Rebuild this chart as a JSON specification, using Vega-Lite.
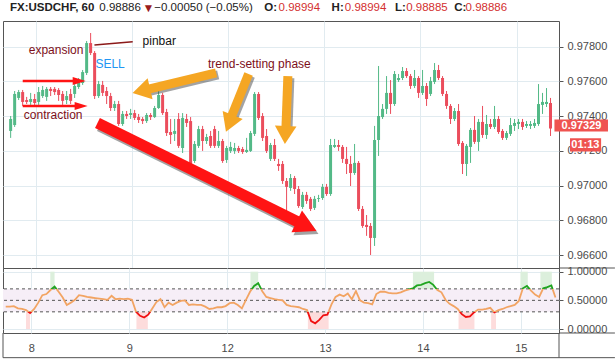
{
"$schema":"https://vega.github.io/schema/vega-lite/v6.json",
"padding":{"left":1,"top":1,"right":2,"bottom":1},
"background":"white",
"bounds":"flush",
"config":{"view":{"stroke":"#555555","strokeWidth":1},"font":"Liberation Sans","axis":{"labelFont":"Liberation Sans","labelFontSize":11,"labelColor":"#4a4a4a","gridColor":"#e1ebf0"}},
"datasets":{"bars":[
{"k":0,"o":0.97315,"h":0.97401,"l":0.97275,"c":0.97384,"osc":0.39},
{"k":1,"o":0.97349,"h":0.97545,"l":0.97338,"c":0.97528,"osc":0.39},
{"k":2,"o":0.97505,"h":0.97551,"l":0.97493,"c":0.97539,"osc":0.40},
{"k":3,"o":0.97539,"h":0.97551,"l":0.97459,"c":0.97482,"osc":0.36},
{"k":4,"o":0.97493,"h":0.97511,"l":0.97470,"c":0.97482,"osc":0.35},
{"k":5,"o":0.97482,"h":0.97534,"l":0.97465,"c":0.97499,"osc":0.33},
{"k":6,"o":0.97499,"h":0.97528,"l":0.97453,"c":0.97476,"osc":0.28},
{"k":7,"o":0.97482,"h":0.97568,"l":0.97465,"c":0.97539,"osc":0.35},
{"k":8,"o":0.97516,"h":0.97574,"l":0.97505,"c":0.97551,"osc":0.46},
{"k":9,"o":0.97511,"h":0.97568,"l":0.97488,"c":0.97557,"osc":0.59},
{"k":10,"o":0.97557,"h":0.97568,"l":0.97516,"c":0.97545,"osc":0.61},
{"k":11,"o":0.97557,"h":0.97568,"l":0.97522,"c":0.97539,"osc":0.68},
{"k":12,"o":0.97551,"h":0.97562,"l":0.97488,"c":0.97522,"osc":0.74},
{"k":13,"o":0.97528,"h":0.97545,"l":0.97465,"c":0.97488,"osc":0.65},
{"k":14,"o":0.97493,"h":0.97545,"l":0.97470,"c":0.97516,"osc":0.55},
{"k":15,"o":0.97528,"h":0.97557,"l":0.97470,"c":0.97488,"osc":0.42},
{"k":16,"o":0.97528,"h":0.97585,"l":0.97505,"c":0.97574,"osc":0.46},
{"k":17,"o":0.97568,"h":0.97620,"l":0.97557,"c":0.97608,"osc":0.51},
{"k":18,"o":0.97591,"h":0.97666,"l":0.97580,"c":0.97654,"osc":0.59},
{"k":19,"o":0.97649,"h":0.97833,"l":0.97637,"c":0.97821,"osc":0.58},
{"k":20,"o":0.97821,"h":0.97879,"l":0.97752,"c":0.97764,"osc":0.56},
{"k":21,"o":0.97764,"h":0.97775,"l":0.97499,"c":0.97516,"osc":0.55},
{"k":22,"o":0.97516,"h":0.97603,"l":0.97505,"c":0.97585,"osc":0.54},
{"k":23,"o":0.97580,"h":0.97603,"l":0.97516,"c":0.97534,"osc":0.53},
{"k":24,"o":0.97545,"h":0.97568,"l":0.97470,"c":0.97516,"osc":0.52},
{"k":25,"o":0.97516,"h":0.97534,"l":0.97430,"c":0.97447,"osc":0.51},
{"k":26,"o":0.97447,"h":0.97488,"l":0.97430,"c":0.97470,"osc":0.58},
{"k":27,"o":0.97470,"h":0.97488,"l":0.97344,"c":0.97355,"osc":0.52},
{"k":28,"o":0.97355,"h":0.97430,"l":0.97344,"c":0.97413,"osc":0.53},
{"k":29,"o":0.97413,"h":0.97430,"l":0.97384,"c":0.97401,"osc":0.52},
{"k":30,"o":0.97407,"h":0.97442,"l":0.97384,"c":0.97418,"osc":0.53},
{"k":31,"o":0.97418,"h":0.97436,"l":0.97378,"c":0.97390,"osc":0.51},
{"k":32,"o":0.97395,"h":0.97413,"l":0.97361,"c":0.97378,"osc":0.30},
{"k":33,"o":0.97384,"h":0.97395,"l":0.97355,"c":0.97372,"osc":0.23},
{"k":34,"o":0.97372,"h":0.97418,"l":0.97361,"c":0.97407,"osc":0.20},
{"k":35,"o":0.97407,"h":0.97418,"l":0.97378,"c":0.97395,"osc":0.25},
{"k":36,"o":0.97395,"h":0.97459,"l":0.97390,"c":0.97447,"osc":0.36},
{"k":37,"o":0.97447,"h":0.97545,"l":0.97442,"c":0.97522,"osc":0.47},
{"k":38,"o":0.97522,"h":0.97534,"l":0.97407,"c":0.97418,"osc":0.52},
{"k":39,"o":0.97424,"h":0.97442,"l":0.97286,"c":0.97303,"osc":0.38},
{"k":40,"o":0.97309,"h":0.97384,"l":0.97240,"c":0.97292,"osc":0.46},
{"k":41,"o":0.97298,"h":0.97384,"l":0.97257,"c":0.97315,"osc":0.42},
{"k":42,"o":0.97384,"h":0.97418,"l":0.97217,"c":0.97229,"osc":0.46},
{"k":43,"o":0.97217,"h":0.97418,"l":0.97188,"c":0.97390,"osc":0.49},
{"k":44,"o":0.97384,"h":0.97413,"l":0.97338,"c":0.97361,"osc":0.50},
{"k":45,"o":0.97372,"h":0.97395,"l":0.97108,"c":0.97125,"osc":0.42},
{"k":46,"o":0.97142,"h":0.97257,"l":0.97131,"c":0.97240,"osc":0.43},
{"k":47,"o":0.97229,"h":0.97344,"l":0.97217,"c":0.97326,"osc":0.42},
{"k":48,"o":0.97326,"h":0.97344,"l":0.97200,"c":0.97257,"osc":0.42},
{"k":49,"o":0.97257,"h":0.97298,"l":0.97240,"c":0.97280,"osc":0.39},
{"k":50,"o":0.97286,"h":0.97315,"l":0.97217,"c":0.97229,"osc":0.35},
{"k":51,"o":0.97326,"h":0.97344,"l":0.97217,"c":0.97229,"osc":0.36},
{"k":52,"o":0.97229,"h":0.97315,"l":0.97217,"c":0.97257,"osc":0.38},
{"k":53,"o":0.97257,"h":0.97269,"l":0.97131,"c":0.97142,"osc":0.38},
{"k":54,"o":0.97148,"h":0.97229,"l":0.97131,"c":0.97217,"osc":0.40},
{"k":55,"o":0.97200,"h":0.97252,"l":0.97188,"c":0.97223,"osc":0.45},
{"k":56,"o":0.97200,"h":0.97246,"l":0.97183,"c":0.97217,"osc":0.46},
{"k":57,"o":0.97217,"h":0.97229,"l":0.97188,"c":0.97200,"osc":0.42},
{"k":58,"o":0.97211,"h":0.97223,"l":0.97183,"c":0.97194,"osc":0.36},
{"k":59,"o":0.97194,"h":0.97275,"l":0.97188,"c":0.97206,"osc":0.51},
{"k":60,"o":0.97200,"h":0.97315,"l":0.97194,"c":0.97303,"osc":0.65},
{"k":61,"o":0.97298,"h":0.97539,"l":0.97286,"c":0.97528,"osc":0.75},
{"k":62,"o":0.97528,"h":0.97539,"l":0.97378,"c":0.97390,"osc":0.80},
{"k":63,"o":0.97401,"h":0.97418,"l":0.97257,"c":0.97275,"osc":0.66},
{"k":64,"o":0.97286,"h":0.97326,"l":0.97188,"c":0.97200,"osc":0.56},
{"k":65,"o":0.97154,"h":0.97246,"l":0.97142,"c":0.97234,"osc":0.54},
{"k":66,"o":0.97234,"h":0.97269,"l":0.97142,"c":0.97154,"osc":0.52},
{"k":67,"o":0.97125,"h":0.97154,"l":0.97085,"c":0.97113,"osc":0.51},
{"k":68,"o":0.97125,"h":0.97142,"l":0.97010,"c":0.97027,"osc":0.50},
{"k":69,"o":0.97027,"h":0.97044,"l":0.96854,"c":0.96993,"osc":0.42},
{"k":70,"o":0.96987,"h":0.97067,"l":0.96970,"c":0.97044,"osc":0.40},
{"k":71,"o":0.97044,"h":0.97056,"l":0.96952,"c":0.96981,"osc":0.39},
{"k":72,"o":0.96981,"h":0.96998,"l":0.96872,"c":0.96883,"osc":0.38},
{"k":73,"o":0.96877,"h":0.96964,"l":0.96866,"c":0.96947,"osc":0.35},
{"k":74,"o":0.96947,"h":0.96964,"l":0.96895,"c":0.96912,"osc":0.33},
{"k":75,"o":0.96924,"h":0.96935,"l":0.96854,"c":0.96866,"osc":0.14},
{"k":76,"o":0.96872,"h":0.96941,"l":0.96860,"c":0.96924,"osc":0.10},
{"k":77,"o":0.96924,"h":0.96947,"l":0.96906,"c":0.96929,"osc":0.16},
{"k":78,"o":0.96929,"h":0.97010,"l":0.96918,"c":0.96993,"osc":0.24},
{"k":79,"o":0.96993,"h":0.97010,"l":0.96941,"c":0.96952,"osc":0.25},
{"k":80,"o":0.96952,"h":0.97269,"l":0.96941,"c":0.97234,"osc":0.43},
{"k":81,"o":0.97223,"h":0.97269,"l":0.97217,"c":0.97234,"osc":0.56},
{"k":82,"o":0.97234,"h":0.97263,"l":0.97200,"c":0.97223,"osc":0.60},
{"k":83,"o":0.97223,"h":0.97234,"l":0.97131,"c":0.97154,"osc":0.57},
{"k":84,"o":0.97154,"h":0.97223,"l":0.97067,"c":0.97125,"osc":0.62},
{"k":85,"o":0.97125,"h":0.97171,"l":0.96998,"c":0.97073,"osc":0.52},
{"k":86,"o":0.97073,"h":0.97240,"l":0.97062,"c":0.97131,"osc":0.66},
{"k":87,"o":0.97131,"h":0.97142,"l":0.96854,"c":0.96866,"osc":0.50},
{"k":88,"o":0.96866,"h":0.96883,"l":0.96757,"c":0.96768,"osc":0.46},
{"k":89,"o":0.96774,"h":0.96831,"l":0.96711,"c":0.96762,"osc":0.45},
{"k":90,"o":0.96768,"h":0.96785,"l":0.96601,"c":0.96699,"osc":0.43},
{"k":91,"o":0.96699,"h":0.97344,"l":0.96653,"c":0.97263,"osc":0.61},
{"k":92,"o":0.97263,"h":0.97689,"l":0.97171,"c":0.97401,"osc":0.65},
{"k":93,"o":0.97395,"h":0.97470,"l":0.97384,"c":0.97442,"osc":0.65},
{"k":94,"o":0.97442,"h":0.97631,"l":0.97413,"c":0.97534,"osc":0.63},
{"k":95,"o":0.97534,"h":0.97608,"l":0.97413,"c":0.97470,"osc":0.62},
{"k":96,"o":0.97470,"h":0.97660,"l":0.97459,"c":0.97643,"osc":0.62},
{"k":97,"o":0.97608,"h":0.97643,"l":0.97597,"c":0.97620,"osc":0.64},
{"k":98,"o":0.97620,"h":0.97683,"l":0.97608,"c":0.97660,"osc":0.67},
{"k":99,"o":0.97660,"h":0.97677,"l":0.97620,"c":0.97631,"osc":0.69},
{"k":100,"o":0.97631,"h":0.97643,"l":0.97557,"c":0.97574,"osc":0.71},
{"k":101,"o":0.97574,"h":0.97666,"l":0.97562,"c":0.97620,"osc":0.76},
{"k":102,"o":0.97620,"h":0.97631,"l":0.97505,"c":0.97534,"osc":0.77},
{"k":103,"o":0.97534,"h":0.97666,"l":0.97522,"c":0.97574,"osc":0.80},
{"k":104,"o":0.97574,"h":0.97591,"l":0.97459,"c":0.97499,"osc":0.82},
{"k":105,"o":0.97528,"h":0.97626,"l":0.97516,"c":0.97603,"osc":0.77},
{"k":106,"o":0.97597,"h":0.97706,"l":0.97585,"c":0.97666,"osc":0.68},
{"k":107,"o":0.97666,"h":0.97695,"l":0.97608,"c":0.97620,"osc":0.64},
{"k":108,"o":0.97620,"h":0.97631,"l":0.97516,"c":0.97528,"osc":0.51},
{"k":109,"o":0.97528,"h":0.97545,"l":0.97442,"c":0.97459,"osc":0.44},
{"k":110,"o":0.97459,"h":0.97470,"l":0.97355,"c":0.97384,"osc":0.40},
{"k":111,"o":0.97384,"h":0.97447,"l":0.97372,"c":0.97430,"osc":0.35},
{"k":112,"o":0.97430,"h":0.97470,"l":0.97229,"c":0.97240,"osc":0.26},
{"k":113,"o":0.97246,"h":0.97257,"l":0.97067,"c":0.97125,"osc":0.21},
{"k":114,"o":0.97125,"h":0.97240,"l":0.97056,"c":0.97229,"osc":0.22},
{"k":115,"o":0.97223,"h":0.97332,"l":0.97131,"c":0.97321,"osc":0.29},
{"k":116,"o":0.97321,"h":0.97401,"l":0.97240,"c":0.97252,"osc":0.34},
{"k":117,"o":0.97252,"h":0.97384,"l":0.97200,"c":0.97367,"osc":0.34},
{"k":118,"o":0.97367,"h":0.97459,"l":0.97275,"c":0.97292,"osc":0.35},
{"k":119,"o":0.97292,"h":0.97407,"l":0.97269,"c":0.97355,"osc":0.37},
{"k":120,"o":0.97355,"h":0.97384,"l":0.97326,"c":0.97338,"osc":0.29},
{"k":121,"o":0.97338,"h":0.97459,"l":0.97326,"c":0.97384,"osc":0.33},
{"k":122,"o":0.97384,"h":0.97401,"l":0.97298,"c":0.97309,"osc":0.35},
{"k":123,"o":0.97315,"h":0.97326,"l":0.97263,"c":0.97275,"osc":0.38},
{"k":124,"o":0.97275,"h":0.97315,"l":0.97263,"c":0.97303,"osc":0.40},
{"k":125,"o":0.97298,"h":0.97390,"l":0.97286,"c":0.97349,"osc":0.42},
{"k":126,"o":0.97344,"h":0.97384,"l":0.97315,"c":0.97361,"osc":0.49},
{"k":127,"o":0.97355,"h":0.97384,"l":0.97326,"c":0.97367,"osc":0.71},
{"k":128,"o":0.97367,"h":0.97384,"l":0.97321,"c":0.97338,"osc":0.75},
{"k":129,"o":0.97344,"h":0.97372,"l":0.97332,"c":0.97355,"osc":0.67},
{"k":130,"o":0.97344,"h":0.97372,"l":0.97326,"c":0.97355,"osc":0.60},
{"k":131,"o":0.97344,"h":0.97384,"l":0.97332,"c":0.97361,"osc":0.56},
{"k":132,"o":0.97355,"h":0.97585,"l":0.97344,"c":0.97470,"osc":0.71},
{"k":133,"o":0.97465,"h":0.97534,"l":0.97413,"c":0.97482,"osc":0.73},
{"k":134,"o":0.97470,"h":0.97562,"l":0.97453,"c":0.97482,"osc":0.76},
{"k":135,"o":0.97476,"h":0.97505,"l":0.97286,"c":0.97329,"osc":0.55}
]},
"spacing":0,
"vconcat":[
{"width":556,"height":247,
 "layer":[
  {"data":{"name":"bars"},"mark":{"type":"rule","strokeWidth":1},
   "encoding":{
    "x":{"field":"k","type":"quantitative","title":null,"scale":{"domain":[-0.663,135.87],"nice":false,"zero":false},"axis":{"values":[6.3,30.34,54.38,78.42,102.46,126.5],"labels":false,"ticks":false,"domain":false,"grid":true,"title":null}},
    "y":{"field":"l","type":"quantitative","title":null,"scale":{"domain":[0.96526,0.97948],"nice":false,"zero":false},"axis":{"orient":"right","values":[0.966,0.968,0.97,0.972,0.974,0.976,0.978],"format":".5f","tickSize":4,"tickColor":"#555555","domain":false,"labelPadding":4,"grid":true,"title":null,"zindex":0,"labelOverlap":false}},
    "y2":{"field":"h"},
    "color":{"condition":{"test":"datum.c >= datum.o","value":"#53b987"},"value":"#eb4d5c"}}},
  {"data":{"name":"bars"},"mark":{"type":"bar","size":3},
   "encoding":{
    "x":{"field":"k","type":"quantitative","title":null,"scale":{"domain":[-0.663,135.87],"nice":false,"zero":false}},
    "y":{"field":"o","type":"quantitative","title":null,"scale":{"domain":[0.96526,0.97948],"nice":false,"zero":false}},
    "y2":{"field":"c"},
    "color":{"condition":{"test":"datum.c >= datum.o","value":"#53b987"},"value":"#eb4d5c"}}},
  {"data":{"values":[{"k":21.71,"p":0.97361,"k2":72.76,"p2":0.96781}]},"mark":{"type":"rule","strokeWidth":11,"color":"#333333","opacity":0.45,"xOffset":2,"x2Offset":2,"yOffset":3,"y2Offset":3},
   "encoding":{"x":{"field":"k","type":"quantitative","title":null,"scale":{"domain":[-0.663,135.87],"nice":false,"zero":false}},"y":{"field":"p","type":"quantitative","title":null,"scale":{"domain":[0.96526,0.97948],"nice":false,"zero":false}},"x2":{"field":"k2"},"y2":{"field":"p2"}}},
  {"data":{"values":[{"k":74.01,"p":0.96767}]},"mark":{"type":"point","shape":"M0,-1L1.1,1L-1.1,1Z","size":484,"angle":115.84,"filled":true,"opacity":0.45,"color":"#333333","xOffset":2,"yOffset":3},
   "encoding":{"x":{"field":"k","type":"quantitative","title":null,"scale":{"domain":[-0.663,135.87],"nice":false,"zero":false}},"y":{"field":"p","type":"quantitative","title":null,"scale":{"domain":[0.96526,0.97948],"nice":false,"zero":false}}}},
  {"data":{"values":[{"k":51.39,"p":0.97649,"k2":33.47,"p2":0.97550},{"k":59.5,"p":0.97643,"k2":55.08,"p2":0.97390},{"k":69.32,"p":0.97631,"k2":68.83,"p2":0.97326}]},"mark":{"type":"rule","strokeWidth":9,"color":"#333333","opacity":0.45,"xOffset":2,"x2Offset":2,"yOffset":2,"y2Offset":2},
   "encoding":{"x":{"field":"k","type":"quantitative","title":null,"scale":{"domain":[-0.663,135.87],"nice":false,"zero":false}},"y":{"field":"p","type":"quantitative","title":null,"scale":{"domain":[0.96526,0.97948],"nice":false,"zero":false}},"x2":{"field":"k2"},"y2":{"field":"p2"}}},
  {"data":{"values":[{"k":21.71,"p":0.97361,"k2":72.76,"p2":0.96781}]},"mark":{"type":"rule","strokeWidth":11,"color":"#ff1414"},
   "encoding":{"x":{"field":"k","type":"quantitative","title":null,"scale":{"domain":[-0.663,135.87],"nice":false,"zero":false}},"y":{"field":"p","type":"quantitative","title":null,"scale":{"domain":[0.96526,0.97948],"nice":false,"zero":false}},"x2":{"field":"k2"},"y2":{"field":"p2"}}},
  {"data":{"values":[{"k":74.01,"p":0.96767}]},"mark":{"type":"point","shape":"M0,-1L1.1,1L-1.1,1Z","size":484,"angle":115.84,"filled":true,"opacity":1,"color":"#ff1414"},
   "encoding":{"x":{"field":"k","type":"quantitative","title":null,"scale":{"domain":[-0.663,135.87],"nice":false,"zero":false}},"y":{"field":"p","type":"quantitative","title":null,"scale":{"domain":[0.96526,0.97948],"nice":false,"zero":false}}}},
  {"data":{"values":[{"k":3.02,"p":0.97603,"k2":16.28,"p2":0.97603},{"k":3.02,"p":0.97459,"k2":16.77,"p2":0.97459}]},"mark":{"type":"rule","strokeWidth":2.5,"color":"#ff1414"},
   "encoding":{"x":{"field":"k","type":"quantitative","title":null,"scale":{"domain":[-0.663,135.87],"nice":false,"zero":false}},"y":{"field":"p","type":"quantitative","title":null,"scale":{"domain":[0.96526,0.97948],"nice":false,"zero":false}},"x2":{"field":"k2"},"y2":{"field":"p2"}}},
  {"data":{"values":[{"k":17.14,"p":0.97603},{"k":17.63,"p":0.97459}]},"mark":{"type":"point","shape":"M0,-1L0.62,1L-0.62,1Z","size":169,"angle":90,"filled":true,"opacity":1,"color":"#ff1414"},
   "encoding":{"x":{"field":"k","type":"quantitative","title":null,"scale":{"domain":[-0.663,135.87],"nice":false,"zero":false}},"y":{"field":"p","type":"quantitative","title":null,"scale":{"domain":[0.96526,0.97948],"nice":false,"zero":false}}}},
  {"data":{"values":[{"k":51.39,"p":0.97649,"k2":33.47,"p2":0.97550},{"k":59.5,"p":0.97643,"k2":55.08,"p2":0.97390},{"k":69.32,"p":0.97631,"k2":68.83,"p2":0.97326}]},"mark":{"type":"rule","strokeWidth":9,"color":"#f5a623"},
   "encoding":{"x":{"field":"k","type":"quantitative","title":null,"scale":{"domain":[-0.663,135.87],"nice":false,"zero":false}},"y":{"field":"p","type":"quantitative","title":null,"scale":{"domain":[0.96526,0.97948],"nice":false,"zero":false}},"x2":{"field":"k2"},"y2":{"field":"p2"}}},
  {"data":{"values":[{"k":32.68,"p":0.97546}]},"mark":{"type":"point","shape":"M0,-1L1.2,1L-1.2,1Z","size":324,"angle":256.76,"filled":true,"opacity":1,"color":"#f5a623"},
   "encoding":{"x":{"field":"k","type":"quantitative","title":null,"scale":{"domain":[-0.663,135.87],"nice":false,"zero":false}},"y":{"field":"p","type":"quantitative","title":null,"scale":{"domain":[0.96526,0.97948],"nice":false,"zero":false}}}},
  {"data":{"values":[{"k":54.68,"p":0.97359}]},"mark":{"type":"point","shape":"M0,-1L1.2,1L-1.2,1Z","size":324,"angle":201.97,"filled":true,"opacity":1,"color":"#f5a623"},
   "encoding":{"x":{"field":"k","type":"quantitative","title":null,"scale":{"domain":[-0.663,135.87],"nice":false,"zero":false}},"y":{"field":"p","type":"quantitative","title":null,"scale":{"domain":[0.96526,0.97948],"nice":false,"zero":false}}}},
  {"data":{"values":[{"k":68.68,"p":0.97292}]},"mark":{"type":"point","shape":"M0,-1L1.2,1L-1.2,1Z","size":324,"angle":182.5,"filled":true,"opacity":1,"color":"#f5a623"},
   "encoding":{"x":{"field":"k","type":"quantitative","title":null,"scale":{"domain":[-0.663,135.87],"nice":false,"zero":false}},"y":{"field":"p","type":"quantitative","title":null,"scale":{"domain":[0.96526,0.97948],"nice":false,"zero":false}}}},
  {"data":{"values":[{"k":20.95,"p":0.97810,"k2":30.52,"p2":0.97829}]},"mark":{"type":"rule","strokeWidth":1.5,"color":"#8b1a1a"},
   "encoding":{"x":{"field":"k","type":"quantitative","title":null,"scale":{"domain":[-0.663,135.87],"nice":false,"zero":false}},"y":{"field":"p","type":"quantitative","title":null,"scale":{"domain":[0.96526,0.97948],"nice":false,"zero":false}},"x2":{"field":"k2"},"y2":{"field":"p2"}}},
  {"data":{"values":[{"k":11.37,"p":0.97781,"t":"expansion"},{"k":10.63,"p":0.97407,"t":"contraction"},{"k":62.2,"p":0.97703,"t":"trend-setting phase"}]},"mark":{"type":"text","fontSize":12,"color":"#7d0f1a","align":"center","baseline":"middle"},
   "encoding":{"x":{"field":"k","type":"quantitative","title":null,"scale":{"domain":[-0.663,135.87],"nice":false,"zero":false}},"y":{"field":"p","type":"quantitative","title":null,"scale":{"domain":[0.96526,0.97948],"nice":false,"zero":false}},"text":{"field":"t"}}},
  {"data":{"values":[{"k":24.87,"p":0.97703,"t":"SELL"}]},"mark":{"type":"text","fontSize":12,"color":"#2196f3","align":"center","baseline":"middle"},
   "encoding":{"x":{"field":"k","type":"quantitative","title":null,"scale":{"domain":[-0.663,135.87],"nice":false,"zero":false}},"y":{"field":"p","type":"quantitative","title":null,"scale":{"domain":[0.96526,0.97948],"nice":false,"zero":false}},"text":{"field":"t"}}},
  {"data":{"values":[{"k":37.15,"p":0.97833,"t":"pinbar"}]},"mark":{"type":"text","fontSize":12,"color":"#111111","align":"center","baseline":"middle"},
   "encoding":{"x":{"field":"k","type":"quantitative","title":null,"scale":{"domain":[-0.663,135.87],"nice":false,"zero":false}},"y":{"field":"p","type":"quantitative","title":null,"scale":{"domain":[0.96526,0.97948],"nice":false,"zero":false}},"text":{"field":"t"}}},
  {"data":{"values":[{"k":-0.17,"p":0.98023,"t":"FX:USDCHF, 60"},{"k":63.43,"p":0.98023,"t":"O:"},{"k":80.25,"p":0.98023,"t":"H:"},{"k":96.08,"p":0.98023,"t":"L:"},{"k":110.94,"p":0.98023,"t":"C:"}]},"mark":{"type":"text","fontSize":11.5,"fontWeight":"bold","color":"#222222","align":"left","baseline":"middle"},
   "encoding":{"x":{"field":"k","type":"quantitative","title":null,"scale":{"domain":[-0.663,135.87],"nice":false,"zero":false}},"y":{"field":"p","type":"quantitative","title":null,"scale":{"domain":[0.96526,0.97948],"nice":false,"zero":false}},"text":{"field":"t"}}},
  {"data":{"values":[{"k":22.17,"p":0.98023,"t":"0.98886"},{"k":35.92,"p":0.98023,"t":"−0.00050 (−0.05%)"}]},"mark":{"type":"text","fontSize":11.5,"color":"#222222","align":"left","baseline":"middle"},
   "encoding":{"x":{"field":"k","type":"quantitative","title":null,"scale":{"domain":[-0.663,135.87],"nice":false,"zero":false}},"y":{"field":"p","type":"quantitative","title":null,"scale":{"domain":[0.96526,0.97948],"nice":false,"zero":false}},"text":{"field":"t"}}},
  {"data":{"values":[{"k":32.98,"p":0.98023,"t":"▼"}]},"mark":{"type":"text","fontSize":12,"color":"#9b1c1c","align":"left","baseline":"middle"},
   "encoding":{"x":{"field":"k","type":"quantitative","title":null,"scale":{"domain":[-0.663,135.87],"nice":false,"zero":false}},"y":{"field":"p","type":"quantitative","title":null,"scale":{"domain":[0.96526,0.97948],"nice":false,"zero":false}},"text":{"field":"t"}}},
  {"data":{"values":[{"k":66.99,"p":0.98023,"t":"0.98994"},{"k":83.56,"p":0.98023,"t":"0.98994"},{"k":98.91,"p":0.98023,"t":"0.98885"},{"k":113.76,"p":0.98023,"t":"0.98886"}]},"mark":{"type":"text","fontSize":11.5,"color":"#d32f2f","align":"left","baseline":"middle"},
   "encoding":{"x":{"field":"k","type":"quantitative","title":null,"scale":{"domain":[-0.663,135.87],"nice":false,"zero":false}},"y":{"field":"p","type":"quantitative","title":null,"scale":{"domain":[0.96526,0.97948],"nice":false,"zero":false}},"text":{"field":"t"}}},
  {"data":{"values":[{"k":135.98,"k2":149.37,"p":0.97381,"p2":0.97312},{"k":139.87,"k2":147.65,"p":0.97273,"p2":0.97196}]},"mark":{"type":"rect","color":"#ef5350"},
   "encoding":{"x":{"field":"k","type":"quantitative","title":null,"scale":{"domain":[-0.663,135.87],"nice":false,"zero":false}},"y":{"field":"p","type":"quantitative","title":null,"scale":{"domain":[0.96526,0.97948],"nice":false,"zero":false}},"x2":{"field":"k2"},"y2":{"field":"p2"}}},
  {"data":{"values":[{"k":142.74,"p":0.97346,"t":"0.97329"},{"k":143.72,"p":0.97234,"t":"01:13"}]},"mark":{"type":"text","fontSize":11,"fontWeight":"bold","color":"#ffffff","align":"center","baseline":"middle"},
   "encoding":{"x":{"field":"k","type":"quantitative","title":null,"scale":{"domain":[-0.663,135.87],"nice":false,"zero":false}},"y":{"field":"p","type":"quantitative","title":null,"scale":{"domain":[0.96526,0.97948],"nice":false,"zero":false}},"text":{"field":"t"}}}
 ]},
{"width":556,"height":65,
 "layer":[
  {"data":{"values":[{"lo":0.3,"hi":0.7}]},"mark":{"type":"rect","color":"#f6eef7"},
   "encoding":{"y":{"field":"lo","type":"quantitative","title":null,"scale":{"domain":[-0.069,1.064],"nice":false,"zero":false},"axis":{"orient":"right","values":[0,0.5,1],"tickCount":3,"format":".5f","tickSize":4,"tickColor":"#555555","domain":false,"labelPadding":4,"grid":true,"title":null,"labelOverlap":false,"labelFlush":false}},"y2":{"field":"hi"}}},
  {"data":{"values":[{"s":10.95,"e":12.0},{"s":60.1,"e":62.0},{"s":100.0,"e":105.2},{"s":126.4,"e":128.2},{"s":131.3,"e":134.1}]},"mark":{"type":"rect","color":"#dcefdc"},
   "encoding":{"x":{"field":"s","type":"quantitative","title":null,"scale":{"domain":[-0.663,135.87],"nice":false,"zero":false},"axis":{"values":[6.3,30.34,54.38,78.42,102.46,126.5],"labelExpr":"datum.value < 20 ? '8' : datum.value < 40 ? '9' : datum.value < 60 ? '12' : datum.value < 90 ? '13' : datum.value < 110 ? '14' : '15'","ticks":false,"tickSize":0,"domain":false,"labelPadding":9,"grid":true,"title":null}},"x2":{"field":"e"},
    "y":{"datum":0.7,"type":"quantitative","title":null,"scale":{"domain":[-0.069,1.064],"nice":false,"zero":false},"axis":{"orient":"right","values":[0,0.5,1],"tickCount":3,"format":".5f","tickSize":4,"tickColor":"#555555","domain":false,"labelPadding":4,"grid":true,"title":null,"labelOverlap":false,"labelFlush":false}},"y2":{"datum":1.0}}},
  {"data":{"values":[{"s":4.98,"e":5.97},{"s":32.1,"e":34.9},{"s":74.2,"e":79.3},{"s":111.2,"e":115.1},{"s":119.2,"e":120.4}]},"mark":{"type":"rect","color":"#fddcdc"},
   "encoding":{"x":{"field":"s","type":"quantitative","title":null,"scale":{"domain":[-0.663,135.87],"nice":false,"zero":false}},"x2":{"field":"e"},
    "y":{"datum":0,"type":"quantitative","title":null,"scale":{"domain":[-0.069,1.064],"nice":false,"zero":false},"axis":{"orient":"right","values":[0,0.5,1],"tickCount":3,"format":".5f","tickSize":4,"tickColor":"#555555","domain":false,"labelPadding":4,"grid":true,"title":null,"labelOverlap":false,"labelFlush":false}},"y2":{"datum":0.3}}},
  {"data":{"values":[{"lvl":0.3},{"lvl":0.5},{"lvl":0.7}]},"mark":{"type":"rule","strokeDash":[3,3],"color":"#555555","strokeWidth":1},
   "encoding":{"y":{"field":"lvl","type":"quantitative","title":null,"scale":{"domain":[-0.069,1.064],"nice":false,"zero":false},"axis":{"orient":"right","values":[0,0.5,1],"tickCount":3,"format":".5f","tickSize":4,"tickColor":"#555555","domain":false,"labelPadding":4,"grid":true,"title":null,"labelOverlap":false,"labelFlush":false}}}},
  {"data":{"name":"bars"},"mark":{"type":"line","strokeWidth":1.8,"stroke":{"gradient":"linear","x1":0,"y1":0,"x2":0,"y2":1,"stops":[{"offset":0,"color":"#1fa51f"},{"offset":0.1667,"color":"#1fa51f"},{"offset":0.1667,"color":"#f2a463"},{"offset":0.7222,"color":"#f2a463"},{"offset":0.7222,"color":"#f01010"},{"offset":1,"color":"#f01010"}]}},
   "encoding":{"x":{"field":"k","type":"quantitative","title":null,"scale":{"domain":[-0.663,135.87],"nice":false,"zero":false}},"y":{"field":"osc","type":"quantitative","title":null,"scale":{"domain":[-0.069,1.064],"nice":false,"zero":false},"axis":{"orient":"right","values":[0,0.5,1],"tickCount":3,"format":".5f","tickSize":4,"tickColor":"#555555","domain":false,"labelPadding":4,"grid":true,"title":null,"labelOverlap":false,"labelFlush":false}}}},
  {"data":{"values":[{"k":135.87,"k2":149.6,"v":1.064,"v2":1.064},{"k":135.87,"k2":149.6,"v":-0.069,"v2":-0.069},{"k":-0.663,"k2":149.6,"v":-0.499,"v2":-0.499},{"k":-0.663,"k2":-0.663,"v":-0.069,"v2":-0.499},{"k":135.87,"k2":135.87,"v":-0.069,"v2":-0.499}]},"mark":{"type":"rule","color":"#555555","strokeWidth":1},
   "encoding":{"x":{"field":"k","type":"quantitative","title":null,"scale":{"domain":[-0.663,135.87],"nice":false,"zero":false}},"x2":{"field":"k2"},"y":{"field":"v","type":"quantitative","title":null,"scale":{"domain":[-0.069,1.064],"nice":false,"zero":false},"axis":{"orient":"right","values":[0,0.5,1],"tickCount":3,"format":".5f","tickSize":4,"tickColor":"#555555","domain":false,"labelPadding":4,"grid":true,"title":null,"labelOverlap":false,"labelFlush":false}},"y2":{"field":"v2"}}}
 ]}
]
}
